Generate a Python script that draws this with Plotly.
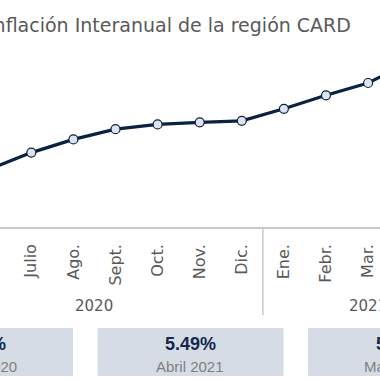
import plotly.graph_objects as go

# ---- data ----
months = ["Mayo", "Jun.", "Julio", "Ago.", "Sept.", "Oct.", "Nov.", "Dic.",
          "Ene.", "Febr.", "Mar.", "Abril", "Mayo"]
inflation = [2.01, 1.91, 2.47, 2.91, 3.25, 3.41, 3.48, 3.53,
             3.93, 4.38, 4.79, 5.49, 5.84]
years = ["2020", "2021"]
year_spans = [(0, 7), (8, 12)]
box_idx = [0, 11, 12]
box_labels = ["Mayo 2020", "Abril 2021", "Mayo 2021"]
title = "Inflación Interanual de la región CARD"

W = H = 380
NAVY = "#0B2142"
GRAY = "#595959"
BOX = "#D6DCE5"

x = list(range(len(months)))
axis_y_px = 226.7
dom_bottom = (H - axis_y_px) / H

fig = go.Figure()
fig.add_trace(go.Scatter(
    x=x, y=inflation, mode="lines+markers",
    line=dict(color=NAVY, width=3.2),
    marker=dict(size=9, color="#DDE4EF", line=dict(color=NAVY, width=1.2)),
    hoverinfo="skip", showlegend=False, cliponaxis=False,
))

tick_font = dict(family="DejaVu Sans", size=16, color=GRAY)

fig.update_layout(
    width=W, height=H, margin=dict(l=0, r=0, t=0, b=0),
    paper_bgcolor="white", plot_bgcolor="white",
    xaxis=dict(range=[1.2565, 10.283], tickvals=x, ticktext=months,
               tickangle=-90, showgrid=False, zeroline=False,
               showline=True, linecolor="#C8C8C8", linewidth=2,
               ticks="", tickfont=tick_font, ticklabelstandoff=9,
               automargin=False, fixedrange=True),
    yaxis=dict(range=[0, axis_y_px / 30], domain=[dom_bottom, 1],
               visible=False, fixedrange=True),
)

# title
fig.add_annotation(text=title, xref="paper", yref="paper",
                   x=353 / W, y=1 - 25 / H, xanchor="right", yanchor="middle",
                   showarrow=False,
                   font=dict(family="DejaVu Sans", size=19, color=GRAY))

# year labels and dividers
for yr, (a, b) in zip(years, year_spans):
    fig.add_annotation(text=yr, xref="x", yref="paper", x=(a + b) / 2,
                       y=1 - 306 / H, xanchor="center", yanchor="middle",
                       showarrow=False,
                       font=dict(family="DejaVu Sans", size=15, color=GRAY))
for bx in [-0.5, 7.5, 12.5]:
    fig.add_shape(type="line", xref="x", yref="paper", x0=bx, x1=bx,
                  y0=dom_bottom, y1=1 - 315 / H,
                  line=dict(color="#C8C8C8", width=1.5))

# summary boxes
centers = [-20, 190.5, 401]
bw = 186
for c, i, lab in zip(centers, box_idx, box_labels):
    fig.add_shape(type="rect", xref="paper", yref="paper",
                  x0=(c - bw / 2) / W, x1=(c + bw / 2) / W,
                  y0=1 - 376 / H, y1=1 - 328 / H,
                  fillcolor=BOX, line=dict(width=0), layer="below")
    fig.add_annotation(text=f"<b>{inflation[i]:.2f}%</b>", xref="paper",
                       yref="paper", x=c / W, y=1 - 343.5 / H,
                       xanchor="center", yanchor="middle", showarrow=False,
                       font=dict(family="Liberation Sans", size=18,
                                 color="#14284B"))
    fig.add_annotation(text=lab, xref="paper", yref="paper", x=c / W,
                       y=1 - 366 / H, xanchor="center", yanchor="middle",
                       showarrow=False,
                       font=dict(family="Liberation Sans", size=15,
                                 color="#808080"))

fig.write_html("out.html", config={"displayModeBar": False},
               post_script="document.body.style.margin='0';")
